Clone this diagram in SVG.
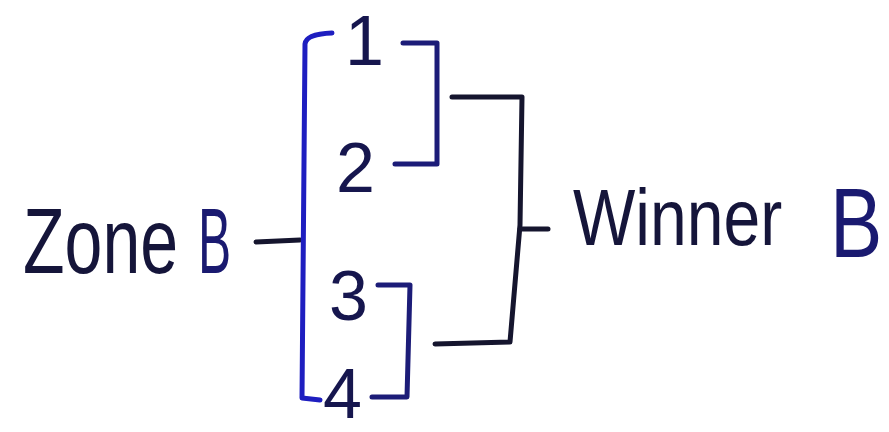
<svg xmlns="http://www.w3.org/2000/svg" width="889" height="432" viewBox="0 0 889 432">
  <style>
    .txt { font-family: "Liberation Sans", "DejaVu Sans", sans-serif; fill: #15153a; }
    .num { font-family: "Liberation Sans", "DejaVu Sans", sans-serif; fill: #16164e; font-size: 70px; }
    .ln { fill: none; stroke-width: 5; stroke-linecap: round; stroke-linejoin: round; }
    .blue { stroke: #1e1ec0; }
    .navy { stroke: #1c1c78; }
    .dark { stroke: #15152e; }
  </style>
  <rect width="889" height="432" fill="#ffffff"/>

  <g id="connectors">
    <path class="ln dark" d="M256,242 L300,240"/>
    <path class="ln blue" d="M332,33 Q306,34 305,44 L302,398 L320,400"/>
    <path class="ln navy" d="M403,43 L437,43 L437,164 L395,164"/>
    <path class="ln navy" d="M378,285 L410,285 L407,397 L372,397"/>
    <path class="ln dark" d="M452,97 L522,97 L520,225 L510,342 L435,344"/>
    <path class="ln dark" d="M520,229 L548,229"/>
  </g>

  <g id="zoneB">
    <text class="txt" font-size="92" transform="translate(23 273) scale(0.74 1)">Zone</text>
    <text class="txt" font-size="92" fill="#1a1a70" style="fill:#1a1a70" transform="translate(198 273) scale(0.54 1)">B</text>
  </g>

  <g id="team1">
    <text class="num" x="345" y="65" font-size="60">1</text>
  </g>
  <g id="team2">
    <text class="num" x="336" y="192">2</text>
  </g>
  <g id="team3">
    <text class="num" x="329" y="320">3</text>
  </g>
  <g id="team4">
    <text class="num" x="323" y="418" font-size="58">4</text>
  </g>

  <g id="winnerB">
    <text class="txt" font-size="80" transform="translate(573 245) scale(0.826 1)">Winner</text>
    <text class="txt" font-size="98" style="fill:#1a1a70" transform="translate(830 257) scale(0.8 1)">B</text>
  </g>
</svg>
